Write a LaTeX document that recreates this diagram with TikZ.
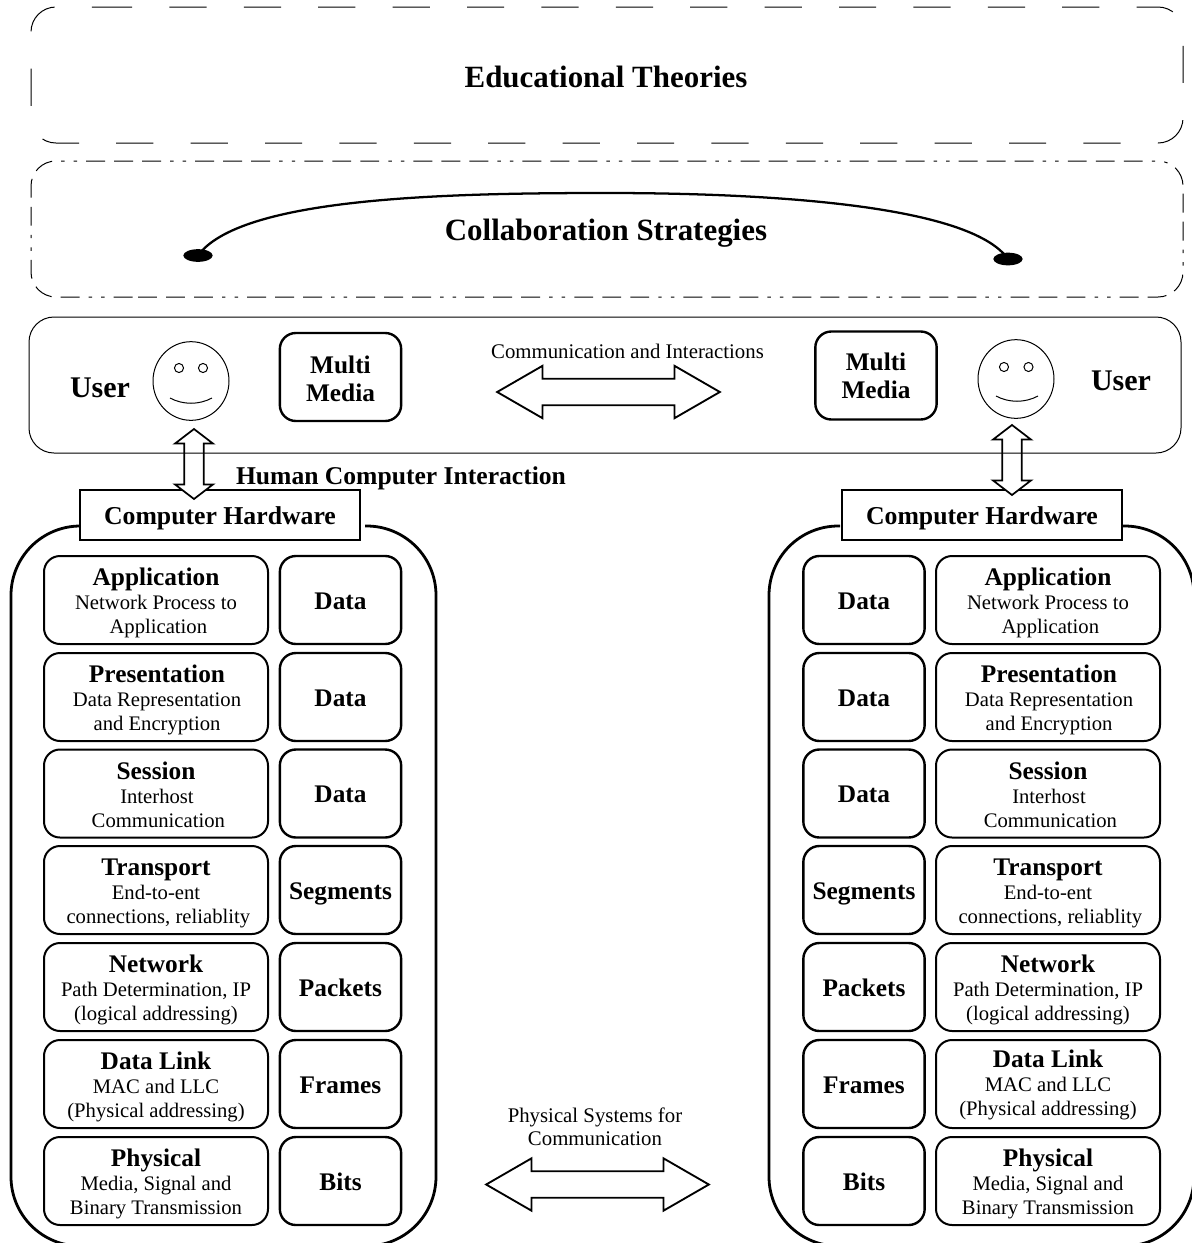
\documentclass[tikz,border=0pt]{standalone}
\usepackage{fontspec}
\setmainfont{Liberation Serif}
\usetikzlibrary{shapes.geometric,shapes.arrows}
\newcommand{\ttl}[1]{{\fontsize{19}{19}\selectfont\bfseries #1}}
\newcommand{\layerbox}[7][17.25pt]{\node[layerbox] (#2) at (#3,#4) {\rule{0pt}{#1}\ttl{#5}\\#6\\#7\rule[-2.25pt]{0pt}{2.25pt}};}
\newcommand{\pdubox}[4]{\node[pdubox,text height=16pt,text depth=1.8pt] (#1) at (#2,#3) {#4};}
\newcommand{\shr}[1]{\hspace*{3.5pt}#1}
\newcommand{\shs}[1]{\hspace*{1.5pt}#1}
\tikzset{
  thinline/.style={line width=0.75pt,black},
  layerbox/.style={draw,line width=1.5pt,rounded corners=12pt,minimum width=168pt,minimum height=66pt,align=center,inner sep=0pt,font=\fontsize{15.5}{17.8}\selectfont},
  pdubox/.style={draw,line width=1.8pt,rounded corners=12pt,minimum width=91pt,minimum height=66pt,align=center,inner sep=0pt,font=\fontsize{19}{21}\selectfont\bfseries},
  hwbox/.style={draw,fill=white,line width=1.5pt,minimum width=210pt,minimum height=37.5pt,inner sep=0pt,text height=15.7pt,text depth=2pt,font=\fontsize{19.3}{22}\selectfont\bfseries},
  outerline/.style={line width=2.1pt,rounded corners=52pt},
  face/.style={draw,ellipse,thinline,minimum width=57pt,minimum height=59pt,inner sep=0pt},
  eye/.style={draw,circle,thinline,minimum size=6.8pt,inner sep=0pt},
  blob/.style={ellipse,fill=black,minimum width=22pt,minimum height=9.5pt,inner sep=0pt},
  harrow/.style={double arrow,draw,fill=white,line width=1.4pt,inner xsep=0pt,inner ysep=9.2pt,minimum height=167pt,minimum width=38pt,double arrow head extend=9.75pt,double arrow tip angle=60},
  varrow/.style={double arrow,draw,fill=white,line width=1.3pt,inner xsep=0pt,inner ysep=6.6pt,rotate=90,minimum height=52.5pt,minimum width=27.2pt,double arrow head extend=7pt,double arrow tip angle=105},
  bigtext/.style={inner sep=0pt,font=\fontsize{23.2}{26}\selectfont\bfseries},
  usertext/.style={inner sep=0pt,font=\fontsize{22.5}{26}\selectfont\bfseries},
  label/.style={inner sep=0pt,align=center,font=\fontsize{15.6}{17.6}\selectfont},
}
\begin{document}
\begin{tikzpicture}[x=0.75pt,y=-0.75pt]
\useasboundingbox (0,0) rectangle (1192,1243);
\clip (0,0) rectangle (1192,1243);
% top bands
\draw[thinline,rounded corners=18.75pt,dash pattern=on 27.9pt off 27.9pt]
  (95,7) -- (1183,7) -- (1183,143) -- (31,143) -- (31,7) -- (95,7);
\draw[thinline,rounded corners=18.75pt,dash pattern=on 14.2pt off 6.8pt on 14.2pt off 6.8pt on 14.2pt off 6.8pt on 2.6pt off 6.8pt on 2.6pt off 6.8pt]
  (138,297) -- (1183,297) -- (1183,161) -- (31,161) -- (31,297) -- (138,297);
\node[bigtext] (edu) at (606,77) {Educational Theories};
\node[bigtext] (collab) at (606,233) {Collaboration Strategies};
\node[blob] (b1) at (198,255.5) {};
\node[blob] (b2) at (1008,259) {};
\draw[line width=1.7pt] (b1.center) .. controls (240,198) and (440,193) .. (606,193)
  .. controls (770,193) and (970,205) .. (b2.center);
% outer frames
\draw[outerline] (365,526) -- (436,526) -- (436,1246) -- (11,1246) -- (11,526) -- (80,526);
\draw[outerline] (1123,526) -- (1194,526) -- (1194,1246) -- (769,1246) -- (769,526) -- (840,526);
\node[hwbox] (hw1) at (220,515) {Computer Hardware};
\node[hwbox] (hw2) at (982,515) {Computer Hardware};
% vertical block arrows
\node[varrow] (va1) at (194,464) {};
\node[varrow] (va2) at (1012,460) {};
% user band
\draw[thinline,rounded corners=18.75pt] (29,317) rectangle (1181,453);
\node[usertext] (u1) at (100,388) {User};
\node[usertext] (u2) at (1121,381) {User};
\node[face] (f1) at (191,381) {};
\node[eye] (e1a) at (179,368) {};
\node[eye] (e1b) at (203,368) {};
\draw[thinline] (170,398) .. controls (183,405) and (199,405) .. (212,398);
\node[face] (f2) at (1016,379) {};
\node[eye] (e2a) at (1004,367) {};
\node[eye] (e2b) at (1028.5,367) {};
\draw[thinline] (996,396) .. controls (1009,403) and (1025,403) .. (1038,396);
\node[pdubox] (mm1) at (340.5,377) {\rule{0pt}{15.2pt}Multi\\Media};
\node[pdubox] (mm2) at (876,375.5) {\rule{0pt}{14pt}Multi\\Media};
\node[label] (comm) at (627.5,351) {Communication and Interactions};
\node[harrow] (ha1) at (608.5,392) {};
\node[inner sep=0pt,font=\fontsize{19.2}{22}\selectfont\bfseries] (hci) at (401,478) {Human Computer Interaction};
\node[label] (phys) at (595,1127) {Physical Systems for\\Communication};
\node[harrow] (ha2) at (597.5,1184.5) {};
% left stack
\layerbox{la1}{156}{600}{Application}{Network Process to}{\shr{Application}}
\layerbox{la2}{156}{697}{\shs{Presentation}}{\shs{Data Representation}}{\shs{and Encryption}}
\layerbox{la3}{156}{793.5}{Session}{\shs{Interhost}}{\shr{Communication}}
\layerbox{la4}{156}{890}{Transport}{End-to-ent}{\shr{connections, reliablity}}
\layerbox{la5}{156}{987}{Network}{Path Determination, IP}{(logical addressing)}
\layerbox{la6}{156}{1084}{Data Link}{MAC and LLC}{(Physical addressing)}
\layerbox{la7}{156}{1181}{Physical}{Media, Signal and}{Binary Transmission}
\pdubox{lb1}{340.5}{600}{Data}
\pdubox{lb2}{340.5}{697}{Data}
\pdubox{lb3}{340.5}{793.5}{Data}
\pdubox{lb4}{340.5}{890}{Segments}
\pdubox{lb5}{340.5}{987}{Packets}
\pdubox{lb6}{340.5}{1084}{Frames}
\pdubox{lb7}{340.5}{1181}{Bits}
% right stack
\layerbox{ra1}{1048}{600}{Application}{Network Process to}{\shr{Application}}
\layerbox{ra2}{1048}{697}{\shs{Presentation}}{\shs{Data Representation}}{\shs{and Encryption}}
\layerbox{ra3}{1048}{793.5}{Session}{\shs{Interhost}}{\shr{Communication}}
\layerbox{ra4}{1048}{890}{Transport}{End-to-ent}{\shr{connections, reliablity}}
\layerbox{ra5}{1048}{987}{Network}{Path Determination, IP}{(logical addressing)}
\layerbox[14.75pt]{ra6}{1048}{1084}{Data Link}{MAC and LLC}{(Physical addressing)}
\layerbox{ra7}{1048}{1181}{Physical}{Media, Signal and}{Binary Transmission}
\pdubox{rb1}{864}{600}{Data}
\pdubox{rb2}{864}{697}{Data}
\pdubox{rb3}{864}{793.5}{Data}
\pdubox{rb4}{864}{890}{Segments}
\pdubox{rb5}{864}{987}{Packets}
\pdubox{rb6}{864}{1084}{Frames}
\pdubox{rb7}{864}{1181}{Bits}
\end{tikzpicture}
\end{document}
